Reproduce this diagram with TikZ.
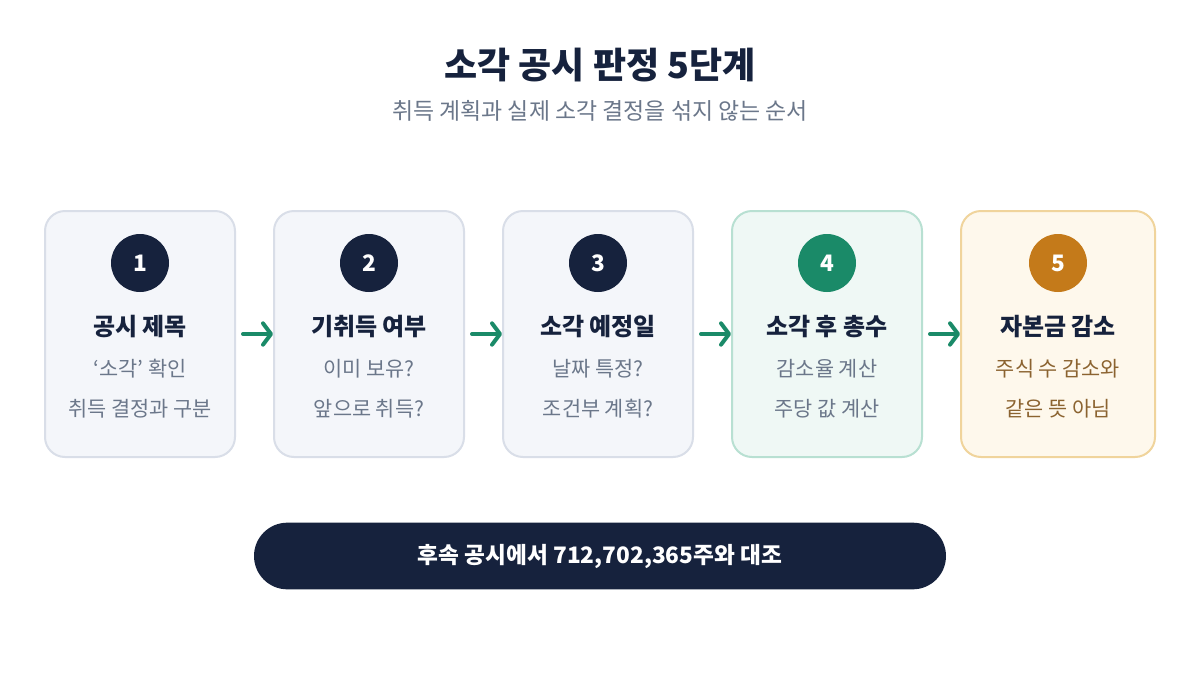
\documentclass[tikz,border=0pt]{standalone}
\usepackage{fontspec}
\setmainfont{Noto Sans CJK KR}
\usetikzlibrary{arrows.meta}

\definecolor{navy}{HTML}{16223D}
\definecolor{cardfill}{HTML}{F4F6FA}
\definecolor{cardline}{HTML}{D9DEE8}
\definecolor{greenfill}{HTML}{EFF8F5}
\definecolor{greenline}{HTML}{B8E0D2}
\definecolor{stepgreen}{HTML}{1A8A68}
\definecolor{orangefill}{HTML}{FEF8EC}
\definecolor{orangeline}{HTML}{F0D49C}
\definecolor{steporange}{HTML}{C47A1A}
\definecolor{browntext}{HTML}{8B6330}
\definecolor{graytext}{HTML}{6B778A}

\begin{document}
\begin{tikzpicture}[x=0.75pt,y=-0.75pt,
  card/.style={draw=cardline,fill=cardfill,line width=1.5pt,rounded corners=15pt,
    minimum width=142.5pt,minimum height=184.5pt,inner sep=0pt},
  num/.style={circle,fill=navy,text=white,minimum size=43.5pt,inner sep=0pt,
    font=\fontsize{17}{20}\selectfont\bfseries},
  head/.style={text=navy,inner sep=0pt,font=\fontsize{18}{21}\selectfont\bfseries},
  sub/.style={text=graytext,inner sep=0pt,font=\fontsize{15.6}{18}\selectfont},
  flow/.style={draw=stepgreen,line width=3pt,line cap=round,
    -{Straight Barb[length=6pt,width=16pt,round]}}]
\fill[white] (0,0) rectangle (1200,675);
\useasboundingbox (0,0) rectangle (1200,675);

% title
\node[text=navy,font=\fontsize{27}{31}\selectfont\bfseries] (title) at (600,65) {소각 공시 판정 5단계};
\node[text=graytext,font=\fontsize{17.2}{20}\selectfont] (subtitle) at (600,111) {취득 계획과 실제 소각 결정을 섞지 않는 순서};

% step 1
\node[card] (b1) at (140,334) {};
\node[num] (n1) at (140,263) {1};
\node[head] (h1) at (140,327) {공시 제목};
\node[sub] (s1a) at (140,369) {‘소각’ 확인};
\node[sub] (s1b) at (140,409) {취득 결정과 구분};

% step 2
\node[card] (b2) at (369,334) {};
\node[num] (n2) at (369,263) {2};
\node[head] (h2) at (369,327) {기취득 여부};
\node[sub] (s2a) at (369,369) {이미 보유?};
\node[sub] (s2b) at (369,409) {앞으로 취득?};

% step 3
\node[card] (b3) at (598,334) {};
\node[num] (n3) at (598,263) {3};
\node[head] (h3) at (598,327) {소각 예정일};
\node[sub] (s3a) at (598,369) {날짜 특정?};
\node[sub] (s3b) at (598,409) {조건부 계획?};

% step 4
\node[card,draw=greenline,fill=greenfill] (b4) at (827,334) {};
\node[num,fill=stepgreen] (n4) at (827,263) {4};
\node[head] (h4) at (827,327) {소각 후 총수};
\node[sub] (s4a) at (827,369) {감소율 계산};
\node[sub] (s4b) at (827,409) {주당 값 계산};

% step 5
\node[card,draw=orangeline,fill=orangefill,minimum width=145.5pt] (b5) at (1058,334) {};
\node[num,fill=steporange] (n5) at (1058,263) {5};
\node[head] (h5) at (1058,327) {자본금 감소};
\node[sub,text=browntext] (s5a) at (1058,369) {주식 수 감소와};
\node[sub,text=browntext] (s5b) at (1058,409) {같은 뜻 아님};

% arrows
\draw[flow,shorten <=5.25pt] (b1.east) -- (b2.west);
\draw[flow,shorten <=5.25pt] (b2.east) -- (b3.west);
\draw[flow,shorten <=5.25pt] (b3.east) -- (b4.west);
\draw[flow,shorten <=5.25pt] (b4.east) -- (b5.west);

% footer
\node[fill=navy,text=white,rounded corners=25pt,minimum width=519pt,minimum height=50pt,
  font=\fontsize{17}{20}\selectfont\bfseries] (check) at (600,556) {후속 공시에서 712,702,365주와 대조};
\end{tikzpicture}
\end{document}
